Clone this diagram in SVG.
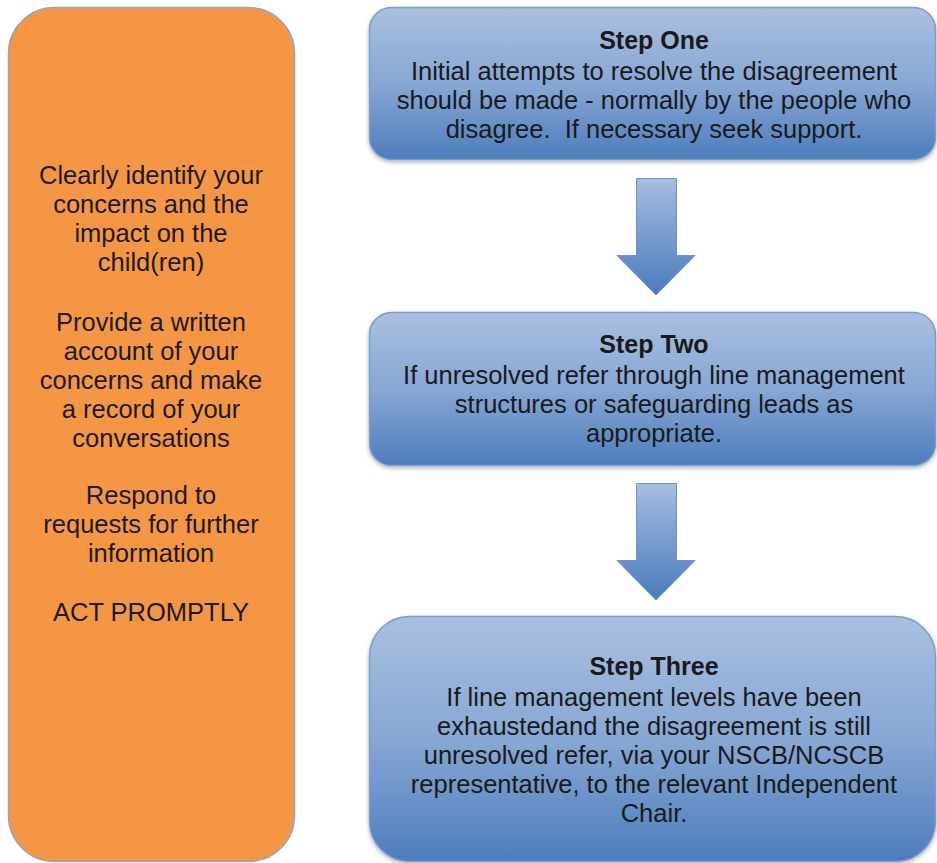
<svg xmlns="http://www.w3.org/2000/svg" width="937" height="863" viewBox="0 0 937 863">
<defs>
<linearGradient id="bg" x1="0" y1="0" x2="0" y2="1">
<stop offset="0" stop-color="#a9c0e0"/>
<stop offset="0.5" stop-color="#88a7d4"/>
<stop offset="1" stop-color="#4d7dbd"/>
</linearGradient>
<linearGradient id="ag" x1="0" y1="0" x2="0" y2="1">
<stop offset="0" stop-color="#a5bde0"/>
<stop offset="1" stop-color="#4a7bbd"/>
</linearGradient>
<filter id="sh" x="-5%" y="-5%" width="110%" height="120%">
<feDropShadow dx="0" dy="2" stdDeviation="2" flood-color="#000" flood-opacity="0.3"/>
</filter>
</defs>
<style>
text{font-family:"Liberation Sans",Arial,sans-serif;fill:#1a1a1a;text-anchor:middle}
.t{font-size:25.5px}
.b{font-size:25px;font-weight:bold}
.pre{white-space:pre}
.step{fill:url(#bg);stroke:#7c9ccb;stroke-width:1.5;filter:url(#sh)}
.arr{fill:url(#ag);stroke:#6d92c8;stroke-width:1}
</style>
<rect width="937" height="863" fill="#ffffff"/>
<g id="side">
<rect x="8.5" y="7.5" width="286" height="854" rx="46" fill="#f59645" stroke="#8ea5c4" stroke-width="1.5"/>
<text class="t" x="151" y="184">Clearly identify your</text>
<text class="t" x="151" y="213">concerns and the</text>
<text class="t" x="151" y="242">impact on the</text>
<text class="t" x="151" y="271">child(ren)</text>
<text class="t" x="151" y="331">Provide a written</text>
<text class="t" x="151" y="360">account of your</text>
<text class="t" x="151" y="389">concerns and make</text>
<text class="t" x="151" y="418">a record of your</text>
<text class="t" x="151" y="447">conversations</text>
<text class="t" x="151" y="504">Respond to</text>
<text class="t" x="151" y="533">requests for further</text>
<text class="t" x="151" y="562">information</text>
<text class="t" x="151" y="621">ACT PROMPTLY</text>
</g>
<g id="step1">
<rect class="step" x="369.5" y="7.5" width="566" height="152" rx="22"/>
<text class="b" x="654" y="49">Step One</text>
<text class="t" x="654" y="80">Initial attempts to resolve the disagreement</text>
<text class="t" x="654" y="109">should be made - normally by the people who</text>
<text class="t pre" x="654" y="138" xml:space="preserve">disagree.  If necessary seek support.</text>
</g>
<g id="step2">
<rect class="step" x="369.5" y="312.5" width="566" height="153" rx="22"/>
<text class="b" x="654" y="353">Step Two</text>
<text class="t" x="654" y="384">If unresolved refer through line management</text>
<text class="t" x="654" y="413">structures or safeguarding leads as</text>
<text class="t" x="654" y="442">appropriate.</text>
</g>
<g id="step3">
<rect class="step" x="369.5" y="616.5" width="566" height="245" rx="40"/>
<text class="b" x="654" y="675">Step Three</text>
<text class="t" x="654" y="706">If line management levels have been</text>
<text class="t" x="654" y="735">exhaustedand the disagreement is still</text>
<text class="t" x="654" y="764">unresolved refer, via your NSCB/NCSCB</text>
<text class="t" x="654" y="793">representative, to the relevant Independent</text>
<text class="t" x="654" y="822">Chair.</text>
</g>
<g id="connectors">
<path class="arr" d="M636.5 178.5 H676.5 V255.5 H695 L656 295 L617 255.5 H636.5 Z"/>
<path class="arr" d="M636.5 483.5 H676.5 V560.5 H695 L656 600 L617 560.5 H636.5 Z"/>
</g>
</svg>
